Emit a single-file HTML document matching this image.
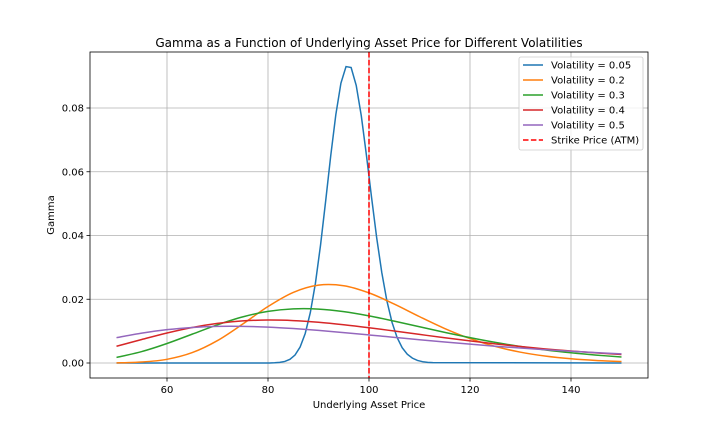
<!DOCTYPE html>
<html><head><meta charset="utf-8"><style>
body{margin:0;background:#fff;}
svg text{font-family:"DejaVu Sans","Liberation Sans",sans-serif;fill:#000;}
</style></head><body>
<svg id="chart" width="720" height="432" viewBox="0 0 720 432" xmlns="http://www.w3.org/2000/svg">
<rect width="720" height="432" fill="#fff"/>
<text x="369" y="47" font-size="12" text-anchor="middle">Gamma as a Function of Underlying Asset Price for Different Volatilities</text>
<text x="369" y="408" font-size="10" text-anchor="middle">Underlying Asset Price</text>
<text x="0" y="0" font-size="10" text-anchor="middle" transform="translate(54,215) rotate(-90)">Gamma</text>
<g id="grid"></g><g id="series"></g><g id="axes"></g><g id="legend"></g>
</svg>
<script>
const xTicks=[60,80,100,120,140];
const yTicks=[0,0.02,0.04,0.06,0.08];
const yTickLabels=["0.00","0.02","0.04","0.06","0.08"];
const seriesNames=["Volatility = 0.05","Volatility = 0.2","Volatility = 0.3","Volatility = 0.4","Volatility = 0.5"];
const seriesColors=["#1f77b4","#ff7f0e","#2ca02c","#d62728","#9467bd"];
const strikePrice=100;
const priceX=[50,55,60,65,70,75,80,85,90,95,100,105,110,115,120,125,130,135,140,145,150];
const gamma02=[0.00005,0.0003,0.00116,0.00326,0.00704,0.01222,0.01772,0.02215,0.02443,0.02425,0.0220,0.01849,0.01455,0.01082,0.00766,0.0052,0.00339,0.00215,0.00132,0.00079,0.00047];
const gamma03=[0.00175,0.00358,0.00612,0.00906,0.01199,0.01447,0.01618,0.01698,0.01692,0.01611,0.01479,0.01314,0.01137,0.0096,0.00795,0.00646,0.00518,0.00409,0.0032,0.00248,0.0019];
const gamma04=[0.00525,0.00737,0.00942,0.01115,0.01243,0.01321,0.01348,0.01331,0.01279,0.01201,0.01107,0.01003,0.00897,0.00792,0.00693,0.0060,0.00517,0.00441,0.00375,0.00318,0.00268];
const gamma05=[0.00794,0.00937,0.01046,0.01115,0.01149,0.0115,0.01126,0.01081,0.01022,0.00953,0.0088,0.00805,0.0073,0.00659,0.00591,0.00527,0.00469,0.00415,0.00367,0.00324,0.00285];
const priceX005=[50,80.30,81.31,82.32,83.33,84.34,85.35,86.36,87.37,88.38,89.39,90.40,91.41,92.42,93.43,94.44,95.45,96.46,97.47,98.48,99.49,100.51,101.52,102.53,103.54,104.55,105.56,106.57,107.58,108.59,109.60,110.61,111.62,112.63,150];
const gamma005=[0,0.00002,0.00007,0.00019,0.00049,0.00115,0.0025,0.00502,0.00926,0.01582,0.02503,0.03695,0.0507,0.065,0.0779,0.0878,0.0930,0.0927,0.0871,0.0775,0.0652,0.0519,0.0393,0.0284,0.0195,0.0128,0.0080,0.00481,0.00275,0.00152,0.0008,0.00041,0.0002,0.0001,0];

const L=90,R=648,T=52,B=378;
const X=v=>167+(v-60)*5.05;
const Y=v=>363-v*3187.5;
const NS="http://www.w3.org/2000/svg";
function mk(tag,attrs,parent){const e=document.createElementNS(NS,tag);for(const k in attrs)e.setAttribute(k,attrs[k]);parent.appendChild(e);return e;}
const grid=document.getElementById('grid'),axes=document.getElementById('axes'),ser=document.getElementById('series'),leg=document.getElementById('legend');
xTicks.forEach(t=>{
  const g=mk('line',{x1:X(t),x2:X(t),y1:T,y2:B,stroke:'#b0b0b0','stroke-width':0.8},grid);
  
  
  mk('line',{x1:X(t),x2:X(t),y1:B,y2:B+3.5,stroke:'#000','stroke-width':0.8},axes);
  const tx=mk('text',{x:X(t),y:B+15,'font-size':10,'text-anchor':'middle'},axes);tx.textContent=t;
  
  
});
yTicks.forEach((t,i)=>{
  const g=mk('line',{x1:L,x2:R,y1:Y(t),y2:Y(t),stroke:'#b0b0b0','stroke-width':0.8},grid);
  
  
  mk('line',{x1:L-3.5,x2:L,y1:Y(t),y2:Y(t),stroke:'#000','stroke-width':0.8},axes);
  const tx=mk('text',{x:L-6,y:Y(t)+3.5,'font-size':10,'text-anchor':'end'},axes);tx.textContent=yTickLabels[i];
  
  
});
const frame=mk('rect',{x:L,y:T,width:R-L,height:B-T,fill:'none',stroke:'#000','stroke-width':0.8},axes);


function linePath(xs,ys){return xs.map((x,i)=>(i?'L':'M')+X(x).toFixed(2)+','+Y(ys[i]).toFixed(2)).join('');}
function smoothPath(xs,ys){
  const p=xs.map((x,i)=>[X(x),Y(ys[i])]);let d='M'+p[0][0]+','+p[0][1];
  for(let i=0;i<p.length-1;i++){const p0=p[i-1]||p[i],p1=p[i],p2=p[i+1],p3=p[i+2]||p2;
    d+='C'+(p1[0]+(p2[0]-p0[0])/6)+','+(p1[1]+(p2[1]-p0[1])/6)+' '+(p2[0]-(p3[0]-p1[0])/6)+','+(p2[1]-(p3[1]-p1[1])/6)+' '+p2[0]+','+p2[1];}
  return d;}
const data=[[priceX005,gamma005,false],[priceX,gamma02,true],[priceX,gamma03,true],[priceX,gamma04,true],[priceX,gamma05,true]];
data.forEach((s,i)=>{
  const p=mk('path',{d:s[2]?smoothPath(s[0],s[1]):linePath(s[0],s[1]),fill:'none',stroke:seriesColors[i],'stroke-width':1.5},ser);
  
  
});
const sl=mk('line',{x1:X(strikePrice),x2:X(strikePrice),y1:T,y2:B,stroke:'#ff0000','stroke-width':1.5,'stroke-dasharray':'5.5,2.4'},ser);


const lb=mk('rect',{x:519,y:57,width:124,height:93,rx:2,fill:'#fff','fill-opacity':0.8,stroke:'#ccc','stroke-width':0.8},leg);


const legNames=seriesNames.concat(["Strike Price (ATM)"]);
const legColors=seriesColors.concat(["#ff0000"]);
legNames.forEach((n,i)=>{
  const y=65+i*15;
  const ln=mk('line',{x1:523,x2:543,y1:y,y2:y,stroke:legColors[i],'stroke-width':1.5},leg);
  if(i===5)ln.setAttribute('stroke-dasharray','5.5,2.4');
  
  
  const t=mk('text',{x:551,y:y+3.5,'font-size':10},leg);t.textContent=n;
  
  
});
</script>
</body></html>
